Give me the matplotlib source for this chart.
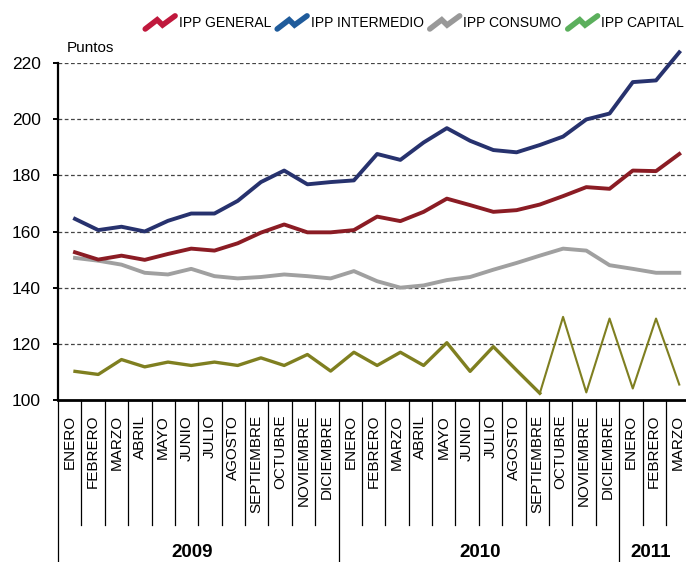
import numpy as np
import matplotlib
matplotlib.use('Agg')
import matplotlib.pyplot as plt
from matplotlib.lines import Line2D
from matplotlib.legend_handler import HandlerBase

# Índices de precios al productor, enero 2009 - marzo 2011
meses = ['ENERO', 'FEBRERO', 'MARZO', 'ABRIL', 'MAYO', 'JUNIO', 'JULIO', 'AGOSTO',
         'SEPTIEMBRE', 'OCTUBRE', 'NOVIEMBRE', 'DICIEMBRE',
         'ENERO', 'FEBRERO', 'MARZO', 'ABRIL', 'MAYO', 'JUNIO', 'JULIO', 'AGOSTO',
         'SEPTIEMBRE', 'OCTUBRE', 'NOVIEMBRE', 'DICIEMBRE',
         'ENERO', 'FEBRERO', 'MARZO']
anios = ['2009', '2010', '2011']

ipp_general = [152.6, 150.0, 151.4, 149.9, 152.0, 153.9, 153.2, 155.8, 159.6, 162.5, 159.7, 159.7,
               160.5, 165.3, 163.7, 167.0, 171.7, 169.4, 167.0, 167.6, 169.6, 172.6, 175.8, 175.2,
               181.7, 181.5, 187.6]
ipp_intermedio = [164.5, 160.5, 161.7, 160.0, 163.8, 166.4, 166.4, 170.9, 177.6, 181.7, 176.8, 177.6,
                  178.2, 187.6, 185.5, 191.7, 196.8, 192.3, 189.0, 188.2, 190.8, 193.8, 199.9, 202.0,
                  213.2, 213.8, 223.8]
ipp_consumo = [150.6, 149.6, 148.2, 145.3, 144.7, 146.7, 144.1, 143.3, 143.8, 144.7, 144.1, 143.3,
               145.9, 142.3, 140.0, 140.8, 142.7, 143.8, 146.4, 148.8, 151.4, 153.9, 153.2, 148.0,
               146.7, 145.3, 145.3]
ipp_capital = [110.2, 109.1, 114.4, 111.8, 113.5, 112.3, 113.5, 112.3, 115.0, 112.3, 116.2, 110.3,
               117.0, 112.3, 117.0, 112.3, 120.4, 110.2, 119.0, 110.6, 102.4, 129.6, 102.7, 129.0,
               104.1, 129.0, 105.5]

col_general = '#8b1c24'
col_intermedio = '#27326e'
col_consumo = '#a0a0a0'
col_capital = '#7f7f20'

FAM = ['Liberation Sans', 'DejaVu Sans']


class HandlerZigzag(HandlerBase):
    # icono de leyenda en forma de zigzag
    def create_artists(self, legend, orig_handle, xdescent, ydescent, width, height, fontsize, trans):
        xs = np.array([0.0, 0.4, 0.58, 1.0]) * width - xdescent
        ys = (np.array([0.0, 0.7, 0.3, 1.0]) * 1.35 - 0.2) * height - ydescent
        ln = Line2D(xs, ys, color=orig_handle.get_color(), lw=4.0,
                    solid_capstyle='round', solid_joinstyle='miter', transform=trans)
        return [ln]


fig = plt.figure(figsize=(6.86, 5.62), dpi=100)
ax = fig.add_axes([58 / 686, 1 - 400 / 562, 631.3 / 686, 337 / 562])

n = len(meses)
# los puntos no caen en el centro de cada casilla del eje
x = 0.727 + np.arange(n) * 0.994

ax.plot(x[:21], ipp_capital[:21], color=col_capital, lw=2.4, clip_on=False, zorder=3)
ax.plot(x[20:], ipp_capital[20:], color=col_capital, lw=1.5, clip_on=False, zorder=3)
ax.plot(x, ipp_consumo, color=col_consumo, lw=2.8, clip_on=False, zorder=4)
ax.plot(x, ipp_general, color=col_general, lw=2.8, clip_on=False, zorder=5)
ax.plot(x, ipp_intermedio, color=col_intermedio, lw=2.8, clip_on=False, zorder=6)

ax.set_xlim(0, n)
ax.set_ylim(100, 220)
ax.set_yticks(range(100, 221, 20))
for v in range(120, 221, 20):
    ax.axhline(v, color='#444444', lw=0.9, ls=(0, (3, 2)), zorder=1)

for s in ['top', 'right']:
    ax.spines[s].set_visible(False)
ax.spines['left'].set_linewidth(1.6)
ax.spines['bottom'].set_linewidth(2.0)
ax.set_xticks([])
ax.tick_params(axis='y', direction='out', length=3.5, width=1.4, pad=9, labelsize=12.5)
for lab in ax.get_yticklabels():
    lab.set_family(FAM)

ax.text(0.0143, 1.045, 'Puntos', transform=ax.transAxes, ha='left', va='center',
        fontsize=11, family=FAM)

# etiquetas de meses y separadores
tr = ax.get_xaxis_transform()
for k in range(n + 1):
    if k % 12 == 0:
        ax.plot([k, k], [0, -0.49], transform=tr, color='black', lw=0.9, clip_on=False)
    else:
        ax.plot([k, k], [0, -0.371], transform=tr, color='black', lw=0.9, clip_on=False)
for k, m in enumerate(meses):
    ax.text(k + 0.5, -0.044, m, transform=tr, rotation=90, ha='center', va='top',
            fontsize=11, family=FAM)
for pos, a in zip([5.75, 18.05, 25.35], anios):
    ax.text(pos, -0.454, a, transform=tr, ha='center', va='center', fontsize=13.5,
            fontweight='bold', family=FAM)

handles = [Line2D([], [], color='#c0183c'), Line2D([], [], color='#1f5b9b'),
           Line2D([], [], color='#999999'), Line2D([], [], color='#5baf5c')]
labels = ['IPP GENERAL', 'IPP INTERMEDIO', 'IPP CONSUMO', 'IPP CAPITAL']
fig.legend(handles, labels, ncol=4, loc='center right', bbox_to_anchor=(0.997, 0.959),
           frameon=False, handler_map={Line2D: HandlerZigzag()}, handlelength=2.15,
           handletextpad=0.25, columnspacing=0.45, borderpad=0, borderaxespad=0,
           prop={'family': FAM, 'size': 10})

fig.savefig('out.png', dpi=100)
